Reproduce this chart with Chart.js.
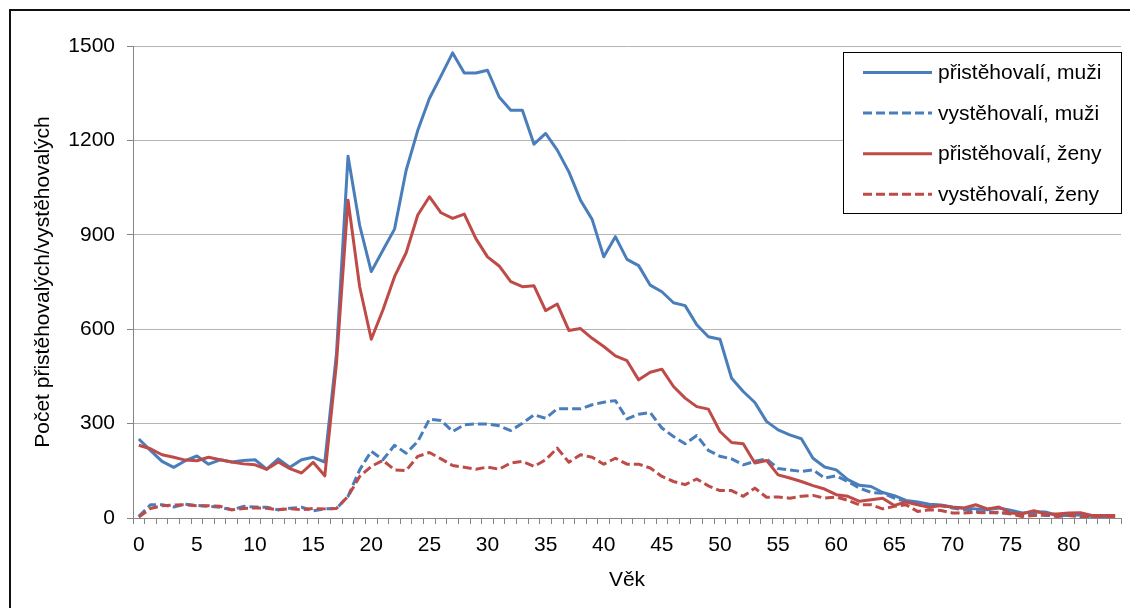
<!DOCTYPE html>
<html lang="cs">
<head>
<meta charset="utf-8">
<title>Přistěhovalí a vystěhovalí podle věku</title>
<script src="https://cdn.jsdelivr.net/npm/chart.js@4.4.1/dist/chart.umd.min.js"></script>
<style>
  html, body { margin: 0; padding: 0; background: #fff; overflow: hidden; }
  #wrap { position: relative; width: 1130px; height: 608px; }
  #ramecek { position: absolute; left: 9px; top: 9px; width: 1200px; height: 700px; border: 2px solid #111; }
  #graf { position: absolute; left: 0; top: 0; }
</style>
</head>
<body>
<div id="wrap">
  <div id="ramecek"></div>
  <canvas id="graf" width="1130" height="608"></canvas>
</div>
<script>
// věk 0–84
const vek = Array.from({ length: 85 }, (_, i) => String(i));

const pristehovaliMuzi = [
  251, 215, 180, 161, 182, 197, 171, 185, 178, 183,
  185, 155, 188, 161, 185, 193, 178, 520, 1150, 930,
  783, 851, 918, 1105, 1232, 1333, 1405, 1478, 1414, 1414,
  1423, 1338, 1296, 1296, 1188, 1222, 1169, 1100, 1010, 949,
  830, 894, 822, 802, 740, 719, 684, 675, 614, 576,
  568, 444, 402, 367, 307, 280, 264, 252, 190, 162,
  153, 122, 104, 100, 81, 71, 56, 51, 44, 41,
  35, 31, 29, 26, 32, 25, 16, 20, 19, 8,
  8, 10, 5, 5, 3
];

const vystehovaliMuzi = [
  5, 42, 42, 35, 44, 40, 37, 34, 26, 37,
  35, 34, 26, 31, 34, 23, 29, 30, 69, 153,
  212, 185, 231, 206, 243, 314, 310, 275, 296, 299,
  299, 293, 278, 301, 328, 317, 347, 347, 347, 360,
  368, 373, 315, 330, 335, 286, 259, 236, 262, 215,
  196, 188, 169, 180, 188, 157, 153, 148, 153, 127,
  134, 116, 95, 81, 79, 63, 53, 48, 42, 39,
  32, 26, 21, 18, 16, 16, 13, 11, 8, 7,
  8, 5, 5, 4, 2
];

const pristehovaliZeny = [
  231, 220, 201, 193, 184, 182, 193, 185, 178, 172,
  169, 155, 178, 157, 143, 177, 134, 490, 1010, 735,
  568, 661, 767, 843, 963, 1021, 970, 952, 966, 888,
  830, 801, 751, 735, 738, 659, 680, 596, 602, 571,
  545, 515, 500, 439, 463, 473, 418, 381, 354, 346,
  275, 240, 236, 175, 183, 137, 127, 116, 103, 92,
  74, 69, 53, 58, 63, 40, 51, 42, 34, 40,
  34, 32, 42, 29, 35, 16, 13, 23, 13, 13,
  16, 17, 8, 8, 8
];

const vystehovaliZeny = [
  3, 30, 39, 41, 42, 39, 39, 37, 26, 30,
  32, 31, 26, 30, 26, 30, 29, 30, 69, 132,
  164, 183, 153, 151, 196, 208, 188, 167, 161, 155,
  162, 155, 175, 180, 164, 185, 222, 177, 201, 193,
  171, 190, 171, 171, 159, 132, 116, 106, 124, 102,
  87, 87, 69, 95, 66, 67, 63, 69, 72, 63,
  67, 56, 42, 42, 29, 37, 42, 21, 26, 24,
  16, 16, 18, 16, 18, 13, 5, 8, 11, 5,
  8, 5, 3, 5, 2
];

const osaYTicks = [0, 300, 600, 900, 1200, 1500];

const MODRA = '#4a7ebb';
const CERVENA = '#be4b48';
const PISMO = '"Liberation Sans", Arial, sans-serif';
const CARKY = [9, 4];

// legenda uvnitř grafu (rámeček vpravo nahoře)
const legendaPlugin = {
    id: 'legendaUvnitr',
    afterDraw(chart) {
        const ctx = chart.ctx;
        const box = { x: 843.5, y: 52.5, w: 278, h: 161 };
        ctx.save();
        ctx.fillStyle = '#fff';
        ctx.fillRect(box.x, box.y, box.w, box.h);
        ctx.strokeStyle = '#000';
        ctx.lineWidth = 1;
        ctx.strokeRect(box.x, box.y, box.w, box.h);

        ctx.font = '21px ' + PISMO;
        ctx.textBaseline = 'middle';
        ctx.textAlign = 'left';
        chart.data.datasets.forEach((ds, i) => {
            const y = 72.5 + i * 40.6;
            ctx.beginPath();
            ctx.strokeStyle = ds.borderColor;
            ctx.lineWidth = ds.borderWidth;
            ctx.setLineDash(ds.borderDash || []);
            ctx.moveTo(863, y);
            ctx.lineTo(932, y);
            ctx.stroke();
            ctx.setLineDash([]);
            ctx.fillStyle = '#000';
            ctx.fillText(ds.label, 938, y + 1);
        });
        ctx.restore();
    }
};

const ctx = document.getElementById('graf').getContext('2d');
new Chart(ctx, {
    type: 'line',
    data: {
        labels: vek,
        datasets: [
            { label: 'přistěhovalí, muži', data: pristehovaliMuzi, borderColor: MODRA, borderWidth: 3, order: 4 },
            { label: 'vystěhovalí, muži', data: vystehovaliMuzi, borderColor: MODRA, borderWidth: 3, borderDash: CARKY, order: 3 },
            { label: 'přistěhovalí, ženy', data: pristehovaliZeny, borderColor: CERVENA, borderWidth: 3, order: 2 },
            { label: 'vystěhovalí, ženy', data: vystehovaliZeny, borderColor: CERVENA, borderWidth: 3, borderDash: CARKY, order: 1 }
        ]
    },
    options: {
        responsive: false,
        animation: false,
        devicePixelRatio: 1,
        elements: {
            point: { radius: 0 },
            line: { tension: 0, borderJoinStyle: 'round', fill: false }
        },
        layout: { padding: { top: 46, right: 9, left: 0, bottom: 0 } },
        scales: {
            x: {
                type: 'category',
                offset: true,
                grid: {
                    offset: true,
                    drawOnChartArea: false,
                    drawTicks: true,
                    tickLength: 6,
                    color: '#868686'
                },
                border: { color: '#868686', width: 1 },
                ticks: {
                    autoSkip: false,
                    maxRotation: 0,
                    padding: 9,
                    color: '#000',
                    font: { family: PISMO, size: 21 },
                    callback: (v, i) => (i % 5 === 0 ? vek[i] : '')
                },
                title: {
                    display: true,
                    text: 'Věk',
                    color: '#000',
                    font: { family: PISMO, size: 21 },
                    padding: { top: 0, bottom: 15 }
                },
                afterFit: s => { s.height = 90; }
            },
            y: {
                min: 0,
                max: 1500,
                afterBuildTicks: s => { s.ticks = osaYTicks.map(v => ({ value: v })); },
                grid: {
                    color: '#b4b4b4',
                    tickColor: '#868686',
                    tickLength: 6
                },
                border: { color: '#868686', width: 1 },
                ticks: {
                    padding: 12,
                    color: '#000',
                    font: { family: PISMO, size: 21 },
                    callback: v => String(v)
                },
                title: {
                    display: true,
                    text: 'Počet přistěhovalých/vystěhovalých',
                    color: '#000',
                    font: { family: PISMO, size: 21 },
                    padding: { top: 31, bottom: 0 }
                },
                afterFit: s => { s.width = 133; }
            }
        },
        plugins: {
            legend: { display: false },
            tooltip: { enabled: false }
        }
    },
    plugins: [legendaPlugin]
});
</script>
</body>
</html>
